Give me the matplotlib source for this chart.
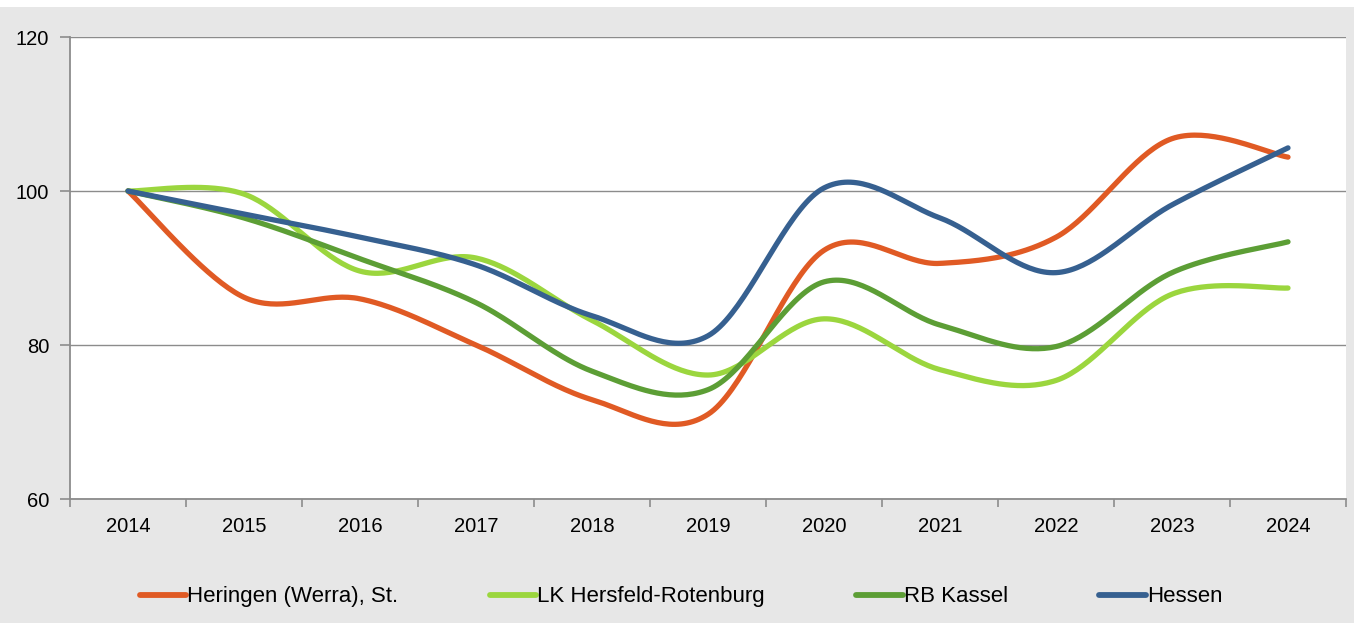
import numpy as np
import matplotlib.pyplot as plt
from matplotlib.patches import Rectangle
from matplotlib.lines import Line2D

plt.rcParams['font.family'] = ['Liberation Sans', 'DejaVu Sans']

years = ['2014', '2015', '2016', '2017', '2018', '2019', '2020', '2021', '2022', '2023', '2024']

heringen = [100, 86.2, 86.0, 80.0, 72.9, 71.0, 92.3, 90.6, 94.0, 106.8, 104.4]
lk_hersfeld = [100, 99.6, 89.6, 91.3, 83.2, 76.1, 83.4, 76.8, 75.4, 86.6, 87.4]
rb_kassel = [100, 96.5, 91.2, 85.5, 76.6, 74.2, 88.2, 82.6, 79.8, 89.4, 93.4]
hessen = [100, 97.0, 94.0, 90.4, 83.8, 81.2, 100.4, 96.5, 89.4, 98.2, 105.6]

labels = ['Heringen (Werra), St.', 'LK Hersfeld-Rotenburg', 'RB Kassel', 'Hessen']
colors = ['#e05a24', '#9bd63e', '#5c9e35', '#366090']


def smooth(x, y, n=40):
    # Excel-style smoothed line: cubic Bezier segments with Catmull-Rom control points
    x = np.asarray(x, float)
    y = np.asarray(y, float)
    px = np.concatenate([[x[0]], x, [x[-1]]])
    py = np.concatenate([[y[0]], y, [y[-1]]])
    t = np.linspace(0, 1, n)[:, None]
    xs, ys = [], []
    for i in range(1, len(px) - 2):
        p0 = np.array([px[i], py[i]])
        p3 = np.array([px[i + 1], py[i + 1]])
        c1 = p0 + (np.array([px[i + 1], py[i + 1]]) - np.array([px[i - 1], py[i - 1]])) / 6
        c2 = p3 - (np.array([px[i + 2], py[i + 2]]) - np.array([px[i], py[i]])) / 6
        pts = ((1 - t) ** 3) * p0 + 3 * ((1 - t) ** 2) * t * c1 + 3 * (1 - t) * t ** 2 * c2 + t ** 3 * p3
        xs.append(pts[:, 0])
        ys.append(pts[:, 1])
    return np.concatenate(xs), np.concatenate(ys)


fig = plt.figure(figsize=(13.54, 6.23), dpi=100, facecolor='white')
fig.patches.append(Rectangle((0, 0), 1, 616 / 623, transform=fig.transFigure,
                             facecolor='#e7e7e7', edgecolor='none', zorder=-10))

ax = fig.add_axes([70 / 1354, 0.199, 1276 / 1354, 0.7416])
ax.set_facecolor('white')

xpos = np.arange(len(years))
for vals, lab, col in zip([heringen, lk_hersfeld, rb_kassel, hessen], labels, colors):
    sx, sy = smooth(xpos, vals)
    ax.plot(sx, sy, color=col, lw=3.8, solid_capstyle='round', label=lab)

ax.set_xlim(-0.5, len(years) - 0.5)
ax.set_ylim(60, 120)
ax.set_yticks([60, 80, 100, 120])
ax.set_yticklabels(['60', '80', '100', '120'], fontsize=14.5)
ax.yaxis.grid(True, color='#8c8c8c', lw=1.0)
ax.set_axisbelow(True)

ax.set_xticks(xpos)
ax.set_xticklabels(years, fontsize=14.5)
ax.set_xticks(np.arange(-0.5, len(years), 1), minor=True)
ax.tick_params(axis='x', which='major', length=0, pad=13)
ax.tick_params(axis='x', which='minor', length=6, color='#8c8c8c', width=1.2)
ax.tick_params(axis='y', length=7, color='#8c8c8c', width=1.2, pad=8)

for s in ['top', 'right']:
    ax.spines[s].set_visible(False)
for s in ['left', 'bottom']:
    ax.spines[s].set_color('#8c8c8c')
    ax.spines[s].set_linewidth(1.3)

handles = [Line2D([], [], color=c, lw=4.2, solid_capstyle='round') for c in colors]
fig.legend(handles, labels, loc='center', bbox_to_anchor=(0.503, 0.042), ncol=4,
           frameon=False, fontsize=16, handlelength=2.1, handletextpad=0.05,
           columnspacing=4.1)

fig.savefig('out.png', dpi=100, facecolor=fig.get_facecolor())
